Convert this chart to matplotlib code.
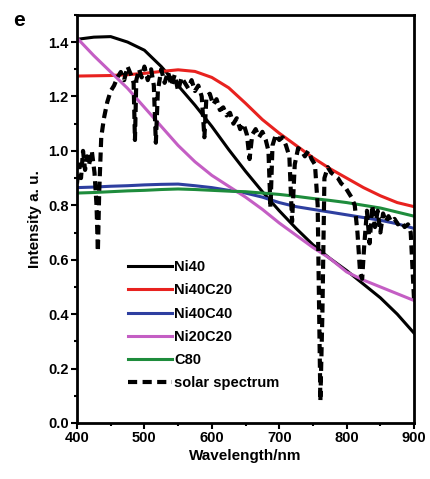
import matplotlib
matplotlib.use("Agg")
import matplotlib.pyplot as plt
from matplotlib.ticker import MultipleLocator

plt.rcParams['font.family'] = ['Liberation Sans', 'DejaVu Sans']
plt.rcParams['font.weight'] = 'bold'

wl = [400, 425, 450, 475, 500, 525, 550, 575, 600, 625, 650, 675, 700, 725, 750, 775, 800, 825, 850, 875, 900]
ni40 = [1.41, 1.418, 1.42, 1.40, 1.37, 1.31, 1.24, 1.168, 1.09, 1.005, 0.925, 0.85, 0.78, 0.715, 0.655, 0.605, 0.56, 0.51, 0.46, 0.40, 0.33]
ni40c20 = [1.275, 1.276, 1.277, 1.28, 1.285, 1.292, 1.298, 1.292, 1.27, 1.232, 1.175, 1.115, 1.065, 1.02, 0.975, 0.935, 0.90, 0.865, 0.835, 0.81, 0.795]
ni40c40 = [0.865, 0.867, 0.87, 0.872, 0.875, 0.877, 0.878, 0.872, 0.865, 0.855, 0.845, 0.83, 0.81, 0.795, 0.785, 0.775, 0.765, 0.755, 0.745, 0.732, 0.715]
ni20c20 = [1.415, 1.35, 1.29, 1.23, 1.16, 1.09, 1.02, 0.96, 0.91, 0.87, 0.83, 0.785, 0.735, 0.69, 0.645, 0.605, 0.555, 0.525, 0.50, 0.475, 0.45]
c80 = [0.845, 0.847, 0.85, 0.853, 0.855, 0.858, 0.86, 0.858, 0.855, 0.852, 0.85, 0.845, 0.84, 0.833, 0.825, 0.818, 0.81, 0.80, 0.79, 0.775, 0.76]

solar_wl = [400, 403, 406, 409, 412, 415, 418, 422, 426, 429, 431, 433, 436, 440, 445, 450, 455, 460, 465, 470,
            475, 480, 484, 486, 488, 492, 496, 500, 505, 510, 514, 517, 520, 525, 530, 535, 540, 545, 550, 555,
            560, 565, 570, 575, 580, 585, 589, 592, 597, 602, 607, 612, 617, 622, 627, 632, 637, 642, 647, 652,
            656, 660, 665, 670, 675, 680, 684, 687, 690, 695, 700, 705, 710, 715, 719, 723, 728, 733, 738, 743,
            748, 753, 757, 761, 764, 767, 772, 777, 782, 787, 792, 797, 802, 807, 812, 816, 820, 823, 826, 830,
            834, 838, 842, 846, 850, 854, 858, 862, 866, 871, 876, 881, 886, 891, 895, 898, 900]
solar = [0.88, 0.95, 0.90, 1.00, 0.93, 0.98, 0.95, 1.00, 0.92, 0.80, 0.63, 0.85, 1.05, 1.12, 1.18, 1.22, 1.24, 1.27, 1.29, 1.26,
         1.31, 1.28, 1.25, 1.04, 1.26, 1.30, 1.27, 1.31, 1.26, 1.30, 1.24, 1.03, 1.22, 1.30, 1.25, 1.29, 1.24, 1.28, 1.22, 1.27,
         1.25, 1.23, 1.26, 1.22, 1.24, 1.20, 1.05, 1.20, 1.21, 1.17, 1.19, 1.15, 1.16, 1.13, 1.14, 1.10, 1.12, 1.08, 1.10, 1.06,
         0.97, 1.06, 1.08, 1.05, 1.07, 1.04, 1.00, 0.79, 1.02, 1.06, 1.04, 1.05, 1.02, 0.98, 0.74, 0.95, 1.01, 1.00, 0.98, 1.00,
         0.97, 0.95, 0.80, 0.08, 0.40, 0.90, 0.94, 0.92, 0.91, 0.90, 0.88, 0.87, 0.85, 0.83, 0.80, 0.70, 0.55, 0.53, 0.65, 0.78,
         0.66, 0.80, 0.72, 0.78, 0.70, 0.77, 0.74, 0.76, 0.74, 0.75, 0.73, 0.74, 0.72, 0.73, 0.70, 0.55, 0.45]

fig = plt.figure(figsize=(4.30, 4.79), dpi=100)
ax = fig.add_axes([0.179, 0.117, 0.784, 0.852])

lw = 2.2
ax.plot(wl, ni40, color='black', lw=lw, label='Ni40')
ax.plot(wl, ni40c20, color='#e8221f', lw=lw, label='Ni40C20')
ax.plot(wl, ni40c40, color='#2e3fa0', lw=lw, label='Ni40C40')
ax.plot(wl, ni20c20, color='#c45ec4', lw=lw, label='Ni20C20')
ax.plot(wl, c80, color='#1e8c3c', lw=lw, label='C80')
ax.plot(solar_wl, solar, color='black', lw=3, ls=(0, (2.2, 1.3)), label='solar spectrum')

ax.set_xlim(400, 900)
ax.set_ylim(0, 1.5)
ax.xaxis.set_major_locator(MultipleLocator(100))
ax.xaxis.set_minor_locator(MultipleLocator(50))
ax.yaxis.set_minor_locator(MultipleLocator(0.1))
ax.set_yticks([0.0, 0.2, 0.4, 0.6, 0.8, 1.0, 1.2, 1.4])
ax.set_yticklabels(['0.0', '0.2', '0.4', '0.6', '0.8', '1.0', '1.2', '1.4'])
ax.tick_params(which='major', direction='out', length=4, width=1.5, labelsize=10.5, pad=2)
ax.tick_params(which='minor', direction='out', length=2.5, width=1.5)
for lab in ax.get_xticklabels() + ax.get_yticklabels():
    lab.set_fontweight('bold')
for s in ax.spines.values():
    s.set_linewidth(2)

ax.set_xlabel('Wavelength/nm', fontsize=11, fontweight='bold', labelpad=3)
ax.set_ylabel('Intensity a. u.', fontsize=11, fontweight='bold', labelpad=4)

leg = ax.legend(loc='upper left', bbox_to_anchor=(0.135, 0.413), frameon=False,
                handlelength=3.0, handletextpad=0.15, labelspacing=0.63,
                prop={'weight': 'bold', 'size': 10.5}, borderaxespad=0)

fig.text(0.03, 0.945, 'e', fontsize=15, fontweight='bold')

fig.savefig('out.png', dpi=100)
